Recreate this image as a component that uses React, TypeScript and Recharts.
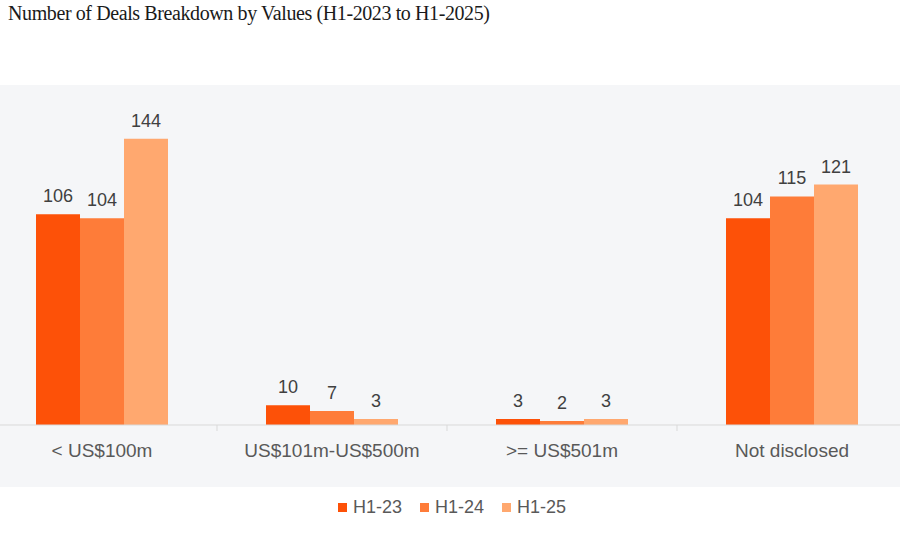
import { BarChart, Bar, XAxis, YAxis, Legend, LabelList } from 'recharts'

const categories = ['< US$100m', 'US$101m-US$500m', '>= US$501m', 'Not disclosed']
const h1_23 = [106, 10, 3, 104]
const h1_24 = [104, 7, 2, 115]
const h1_25 = [144, 3, 3, 121]

const seriesNames = ['H1-23', 'H1-24', 'H1-25']
const seriesColors = ['#fd5108', '#fe7c39', '#ffa86f']

const data = categories.map((name, i) => ({
  name,
  'H1-23': h1_23[i],
  'H1-24': h1_24[i],
  'H1-25': h1_25[i],
}))

const CHART_W = 920
const BAND = CHART_W / categories.length

function CategoryTick(props: any) {
  const { x, y, payload, index } = props
  return (
    <g>
      {index > 0 && (
        <line x1={x - BAND / 2} y1={y} x2={x - BAND / 2} y2={y + 6} stroke="#d9d9d9" strokeWidth={1} />
      )}
      <text x={x} y={y + 32} textAnchor="middle" fill="#595959" fontSize={19} fontFamily="'Liberation Sans', Arial, sans-serif">
        {payload.value}
      </text>
    </g>
  )
}

function LegendContent() {
  return (
    <div style={{ display: 'flex', justifyContent: 'center', gap: 18, fontFamily: "'Liberation Sans', Arial, sans-serif", fontSize: 18, color: '#595959', lineHeight: '22px' }}>
      {seriesNames.map((s, i) => (
        <div key={s} style={{ display: 'flex', alignItems: 'center' }}>
          <span style={{ display: 'inline-block', width: 9, height: 9, background: seriesColors[i], marginRight: 6 }} />
          <span>{s}</span>
        </div>
      ))}
    </div>
  )
}

export default function App() {
  return (
    <div style={{ position: 'absolute', left: 0, top: 0, width: 900, height: 534, background: '#ffffff', overflow: 'hidden' }}>
      <div style={{ position: 'absolute', left: 0, top: 85, width: 900, height: 402, background: '#f5f6f8' }} />
      <div style={{ position: 'absolute', left: 8, top: 2, fontFamily: "'Liberation Serif', 'DejaVu Serif', serif", fontSize: 20, letterSpacing: -0.4, color: '#1a1a1a', whiteSpace: 'nowrap' }}>
        Number of Deals Breakdown by Values (H1-2023 to H1-2025)
      </div>
      <div style={{ position: 'absolute', left: -13, top: 0 }}>
        <BarChart width={CHART_W} height={534} data={data} margin={{ top: 107, right: 0, bottom: 47, left: 0 }} barCategoryGap={49} barGap={0}>
          <XAxis dataKey="name" axisLine={{ stroke: '#d9d9d9' }} tickLine={false} tickSize={0} tickMargin={0} height={40} interval={0} tick={<CategoryTick />} />
          <YAxis hide domain={[0, 160]} />
          <Legend content={<LegendContent />} wrapperStyle={{ top: 496, left: 5, width: CHART_W }} />
          {seriesNames.map((s, i) => (
            <Bar key={s} dataKey={s} fill={seriesColors[i]} isAnimationActive={false}>
              <LabelList dataKey={s} position="top" offset={12} fill="#404040" fontSize={18} fontFamily="'Liberation Sans', Arial, sans-serif" />
            </Bar>
          ))}
        </BarChart>
      </div>
    </div>
  )
}
